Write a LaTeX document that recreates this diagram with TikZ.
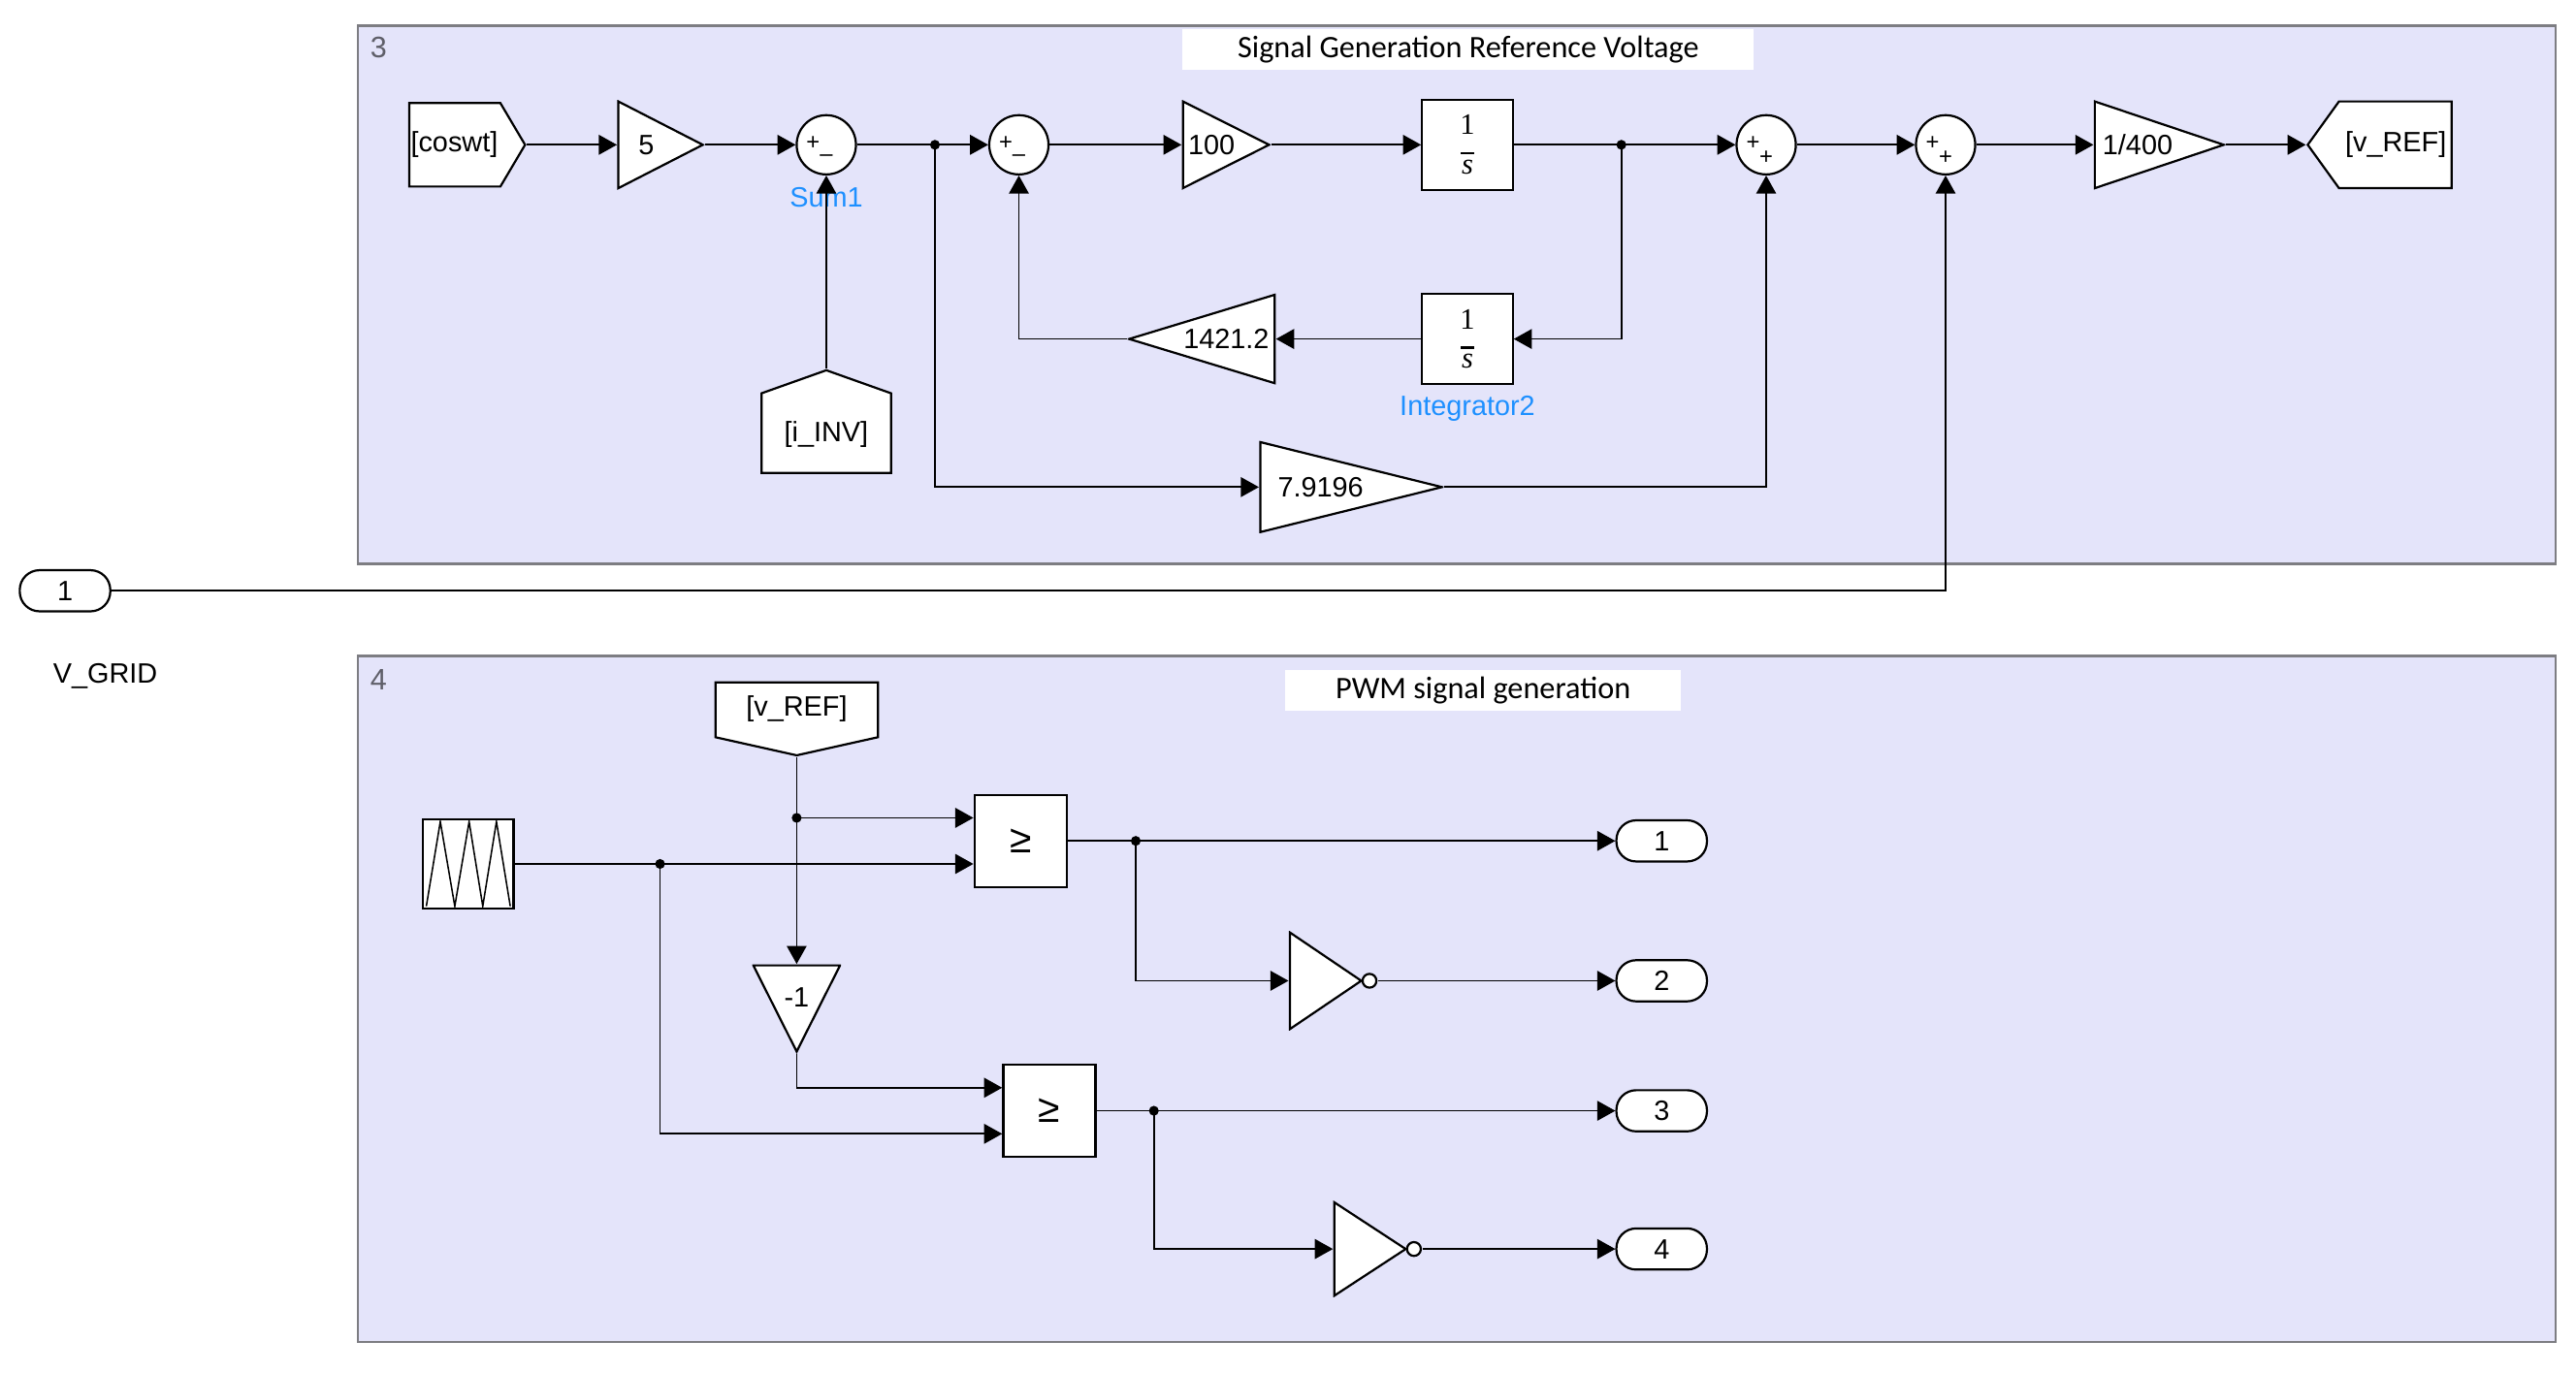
\documentclass[tikz,border=0pt]{standalone}
\usepackage{fontspec}
\setmainfont{Liberation Sans}
\newfontfamily\calibri{Carlito}
\newfontfamily\serif{Liberation Serif}
\usepackage{tikz}
\usetikzlibrary{arrows.meta}

\definecolor{areafill}{RGB}{228,228,250}
\definecolor{arealine}{RGB}{125,125,130}
\definecolor{areanum}{RGB}{95,95,105}
\definecolor{nameblue}{RGB}{30,144,255}

\newcommand{\blkfont}{\fontsize{17}{20}\selectfont}
\newcommand{\sgnfont}{\fontsize{14}{16}\selectfont}

\tikzset{
  sig/.style={line width=1pt, -{Triangle[length=11pt,width=12pt]}},
  wire/.style={line width=1pt},
  shp/.style={fill=white, draw=black, line width=1.3pt, line join=miter},
  blk/.style={draw, fill=white, line width=1.3pt, inner sep=0pt},
  integ/.style={blk, minimum width=55pt, minimum height=55pt, align=center, font=\serif\fontsize{18}{12}\selectfont},
  cmp/.style={blk, minimum width=56pt, minimum height=56pt, font=\fontsize{24}{28}\selectfont},
  outp/.style={draw, fill=white, line width=1.3pt, rounded corners=12pt, minimum width=55pt, minimum height=25pt, inner sep=0pt},
  area/.style={draw=arealine, fill=areafill, line width=1.3pt, anchor=north west, inner sep=0pt},
  ttl/.style={fill=white, font=\calibri\fontsize{19}{22}\selectfont, inner sep=0pt},
  num/.style={text=areanum, font=\fontsize{18}{21}\selectfont},
  blkname/.style={text=nameblue, label distance=4pt},
  sum/.style 2 args={circle, draw, fill=white, line width=1.3pt, inner sep=0pt, minimum size=36pt,
    path picture={
      \node[font=\sgnfont, inner sep=0pt] at ([shift={(-8pt,1pt)}]path picture bounding box.center) {#1};
      \node[font=\sgnfont, inner sep=0pt] at ([shift={(0pt,-8pt)}]path picture bounding box.center) {#2};}},
  gainR/.style 2 args={fill=areafill, inner sep=0pt, minimum width=#1, minimum height=#2,
    execute at end node={\hspace*{\dimexpr#1/3\relax}},
    path picture={\filldraw[shp]
      ([shift={(.65pt,-.65pt)}]path picture bounding box.north west) --
      ([xshift=-1pt]path picture bounding box.east) --
      ([shift={(.65pt,.65pt)}]path picture bounding box.south west) -- cycle;}},
  gainL/.style 2 args={fill=areafill, inner sep=0pt, minimum width=#1, minimum height=#2,
    execute at begin node={\hspace*{\dimexpr#1/3\relax}},
    path picture={\filldraw[shp]
      ([shift={(-.65pt,-.65pt)}]path picture bounding box.north east) --
      ([xshift=1pt]path picture bounding box.west) --
      ([shift={(-.65pt,.65pt)}]path picture bounding box.south east) -- cycle;}},
  gainD/.style={fill=areafill, inner sep=0pt, minimum width=54pt, minimum height=54pt, text depth=14pt,
    path picture={\filldraw[shp]
      ([shift={(.65pt,-.65pt)}]path picture bounding box.north west) --
      ([yshift=1pt]path picture bounding box.south) --
      ([shift={(-.65pt,-.65pt)}]path picture bounding box.north east) -- cycle;}},
  tagR/.style={fill=areafill, inner sep=0pt, execute at end node={\hspace*{#1}},
    path picture={\filldraw[shp]
      ([shift={(.65pt,-.65pt)}]path picture bounding box.north west) --
      ([shift={(-#1,-.65pt)}]path picture bounding box.north east) --
      ([xshift=-1pt]path picture bounding box.east) --
      ([shift={(-#1,.65pt)}]path picture bounding box.south east) --
      ([shift={(.65pt,.65pt)}]path picture bounding box.south west) -- cycle;}},
  tagL/.style={fill=areafill, inner sep=0pt, execute at begin node={\hspace*{#1}},
    path picture={\filldraw[shp]
      ([shift={(-.65pt,-.65pt)}]path picture bounding box.north east) --
      ([shift={(#1,-.65pt)}]path picture bounding box.north west) --
      ([xshift=1pt]path picture bounding box.west) --
      ([shift={(#1,.65pt)}]path picture bounding box.south west) --
      ([shift={(-.65pt,.65pt)}]path picture bounding box.south east) -- cycle;}},
  tagU/.style={fill=areafill, inner sep=0pt,
    path picture={\filldraw[shp]
      ([shift={(.65pt,.65pt)}]path picture bounding box.south west) --
      ([shift={(.65pt,-#1)}]path picture bounding box.north west) --
      ([yshift=-1pt]path picture bounding box.north) --
      ([shift={(-.65pt,-#1)}]path picture bounding box.north east) --
      ([shift={(-.65pt,.65pt)}]path picture bounding box.south east) -- cycle;}},
  tagD/.style={fill=areafill, inner sep=0pt,
    path picture={\filldraw[shp]
      ([shift={(.65pt,-.65pt)}]path picture bounding box.north west) --
      ([shift={(-.65pt,-.65pt)}]path picture bounding box.north east) --
      ([shift={(-.65pt,#1)}]path picture bounding box.south east) --
      ([yshift=1pt]path picture bounding box.south) --
      ([shift={(.65pt,#1)}]path picture bounding box.south west) -- cycle;}},
  notg/.style={fill=areafill, inner sep=0pt, minimum width=54pt, minimum height=#1,
    path picture={\filldraw[shp]
      ([shift={(.65pt,-.65pt)}]path picture bounding box.north west) --
      ([xshift=-10pt]path picture bounding box.east) --
      ([shift={(.65pt,.65pt)}]path picture bounding box.south west) -- cycle;
      \filldraw[shp] ([xshift=-5pt]path picture bounding box.east) circle (4.2pt);}},
  saw/.style={blk, minimum width=55pt, minimum height=54pt,
    path picture={\draw[line width=.9pt]
      ([shift={(2pt,1.3pt)}]path picture bounding box.south west) --
      ([shift={(10.5pt,-1.3pt)}]path picture bounding box.north west) --
      ([shift={(19.3pt,1.3pt)}]path picture bounding box.south west) --
      ([shift={(28pt,-1.3pt)}]path picture bounding box.north west) --
      ([shift={(36.3pt,1.3pt)}]path picture bounding box.south west) --
      ([shift={(44.6pt,-1.3pt)}]path picture bounding box.north west) --
      ([shift={(53pt,1.3pt)}]path picture bounding box.south west);}}
}

\begin{document}
\begin{tikzpicture}[x=1pt, y=-1pt, font=\blkfont]
   \useasboundingbox (0,0) rectangle (1565,833.8);

   \node[area, minimum width=1335pt, minimum height=327pt] (sgarea) at (217,15) {};
   \node[ttl, minimum width=347pt, minimum height=25pt] (sgtitle) at (892,30) {Signal Generation Reference Voltage};
   \node[num] (sgnum) at (230,29) {3};
   \node[area, minimum width=1335pt, minimum height=417pt] (pwmarea) at (217,398) {};
   \node[ttl, minimum width=240pt, minimum height=25pt] (pwmtitle) at (901,419.5) {PWM signal generation};
   \node[num] (pwmnum) at (230,413) {4};

   \node[tagR=16pt, minimum width=72pt, minimum height=52pt] (coswt) at (284,88) {[coswt]};
   \node[gainR={53pt}{54pt}] (gfive) at (401.5,88) {5};
   \node[sum={+}{–}, label={[blkname]below:Sum1}] (sumone) at (502,88) {};
   \node[sum={+}{–}] (sumtwo) at (619,88) {};
   \node[gainR={54pt}{54pt}] (ghund) at (745,88) {100};
   \node[integ] (intone) at (891.5,88) {1\\\rule{8pt}{1.6pt}\\\textit{s}};
   \node[sum={+}{+}] (sumthree) at (1073,88) {};
   \node[sum={+}{+}] (sumfour) at (1182,88) {};
   \node[gainR={80pt}{54pt}] (gscale) at (1312,88) {1/400};
   \node[tagL=20pt, minimum width=89pt, minimum height=54pt] (vrefgo) at (1445.5,88) {[v\_REF]};
   \node[integ, label={[blkname, label distance=3pt]below:Integrator2}] (inttwo) at (891.5,206) {1\\\rule{8pt}{1.6pt}\\\textit{s}};
   \node[gainL={90pt}{55pt}] (gfb) at (730,206) {1421.2};
   \node[tagU=15pt, minimum width=80pt, minimum height=64pt, text height=28pt] (iinv) at (502,256) {[i\_INV]};
   \node[gainR={112pt}{56pt}] (gff) at (821,296) {7.9196};
   \node[outp] (vgrid) at (39.5,359) {1};
   \node (vgridname) at (64,411) {V\_GRID};

   \node[tagD=12pt, minimum width=100pt, minimum height=46pt, text depth=16pt] (vrefget) at (484,437) {[v\_REF]};
   \node[saw] (rep) at (284.5,525) {};
   \node[cmp] (cmpa) at (620,511) {≥};
   \node[gainD] (gneg) at (484,613) {-1};
   \node[cmp] (cmpb) at (637.5,675) {≥};
   \node[notg=60pt] (nota) at (810,596) {};
   \node[notg=58pt] (notb) at (837,759) {};
   \node[outp] (pa) at (1009.5,511) {1};
   \node[outp] (pb) at (1009.5,596) {2};
   \node[outp] (pc) at (1009.5,675) {3};
   \node[outp] (pd) at (1009.5,759) {4};

   \coordinate (ja) at (568,88);
   \coordinate (jb) at (985,88);
   \coordinate (jc) at (484,497);
   \coordinate (jd) at (401,525);
   \coordinate (je) at (690,511);
   \coordinate (jf) at (701,675);

   \draw[sig] (coswt.east) -- (gfive.west);
   \draw[sig] (gfive.east) -- (sumone.west);
   \draw[sig] (sumone.east) -- (sumtwo.west);
   \draw[sig] (ja) |- (gff.west);
   \draw[sig] (iinv.north) -- (sumone.south);
   \draw[sig] (sumtwo.east) -- (ghund.west);
   \draw[sig] (ghund.east) -- (intone.west);
   \draw[sig] (intone.east) -- (sumthree.west);
   \draw[sig] (jb) |- (inttwo.east);
   \draw[sig] (inttwo.west) -- (gfb.east);
   \draw[sig] (gfb.west) -| (sumtwo.south);
   \draw[sig] (gff.east) -| (sumthree.south);
   \draw[sig] (sumthree.east) -- (sumfour.west);
   \draw[sig] (sumfour.east) -- (gscale.west);
   \draw[sig] (gscale.east) -- (vrefgo.west);
   \draw[sig] (vgrid.east) -| (sumfour.south);

   \draw[wire] (vrefget.south) -- (jc);
   \draw[sig] (jc) -- ([yshift=14pt]cmpa.west);
   \draw[sig] (jc) -- (gneg.north);
   \draw[sig] (rep.east) -- ([yshift=-14pt]cmpa.west);
   \draw[sig] (jd) |- ([yshift=-14pt]cmpb.west);
   \draw[sig] (gneg.south) |- ([yshift=14pt]cmpb.west);
   \draw[sig] (cmpa.east) -- (pa.west);
   \draw[sig] (je) |- (nota.west);
   \draw[sig] (nota.east) -- (pb.west);
   \draw[sig] (cmpb.east) -- (pc.west);
   \draw[sig] (jf) |- (notb.west);
   \draw[sig] (notb.east) -- (pd.west);

   \foreach \j in {ja,jb,jc,jd,je,jf}
      \fill (\j) circle (3pt);
\end{tikzpicture}
\end{document}
